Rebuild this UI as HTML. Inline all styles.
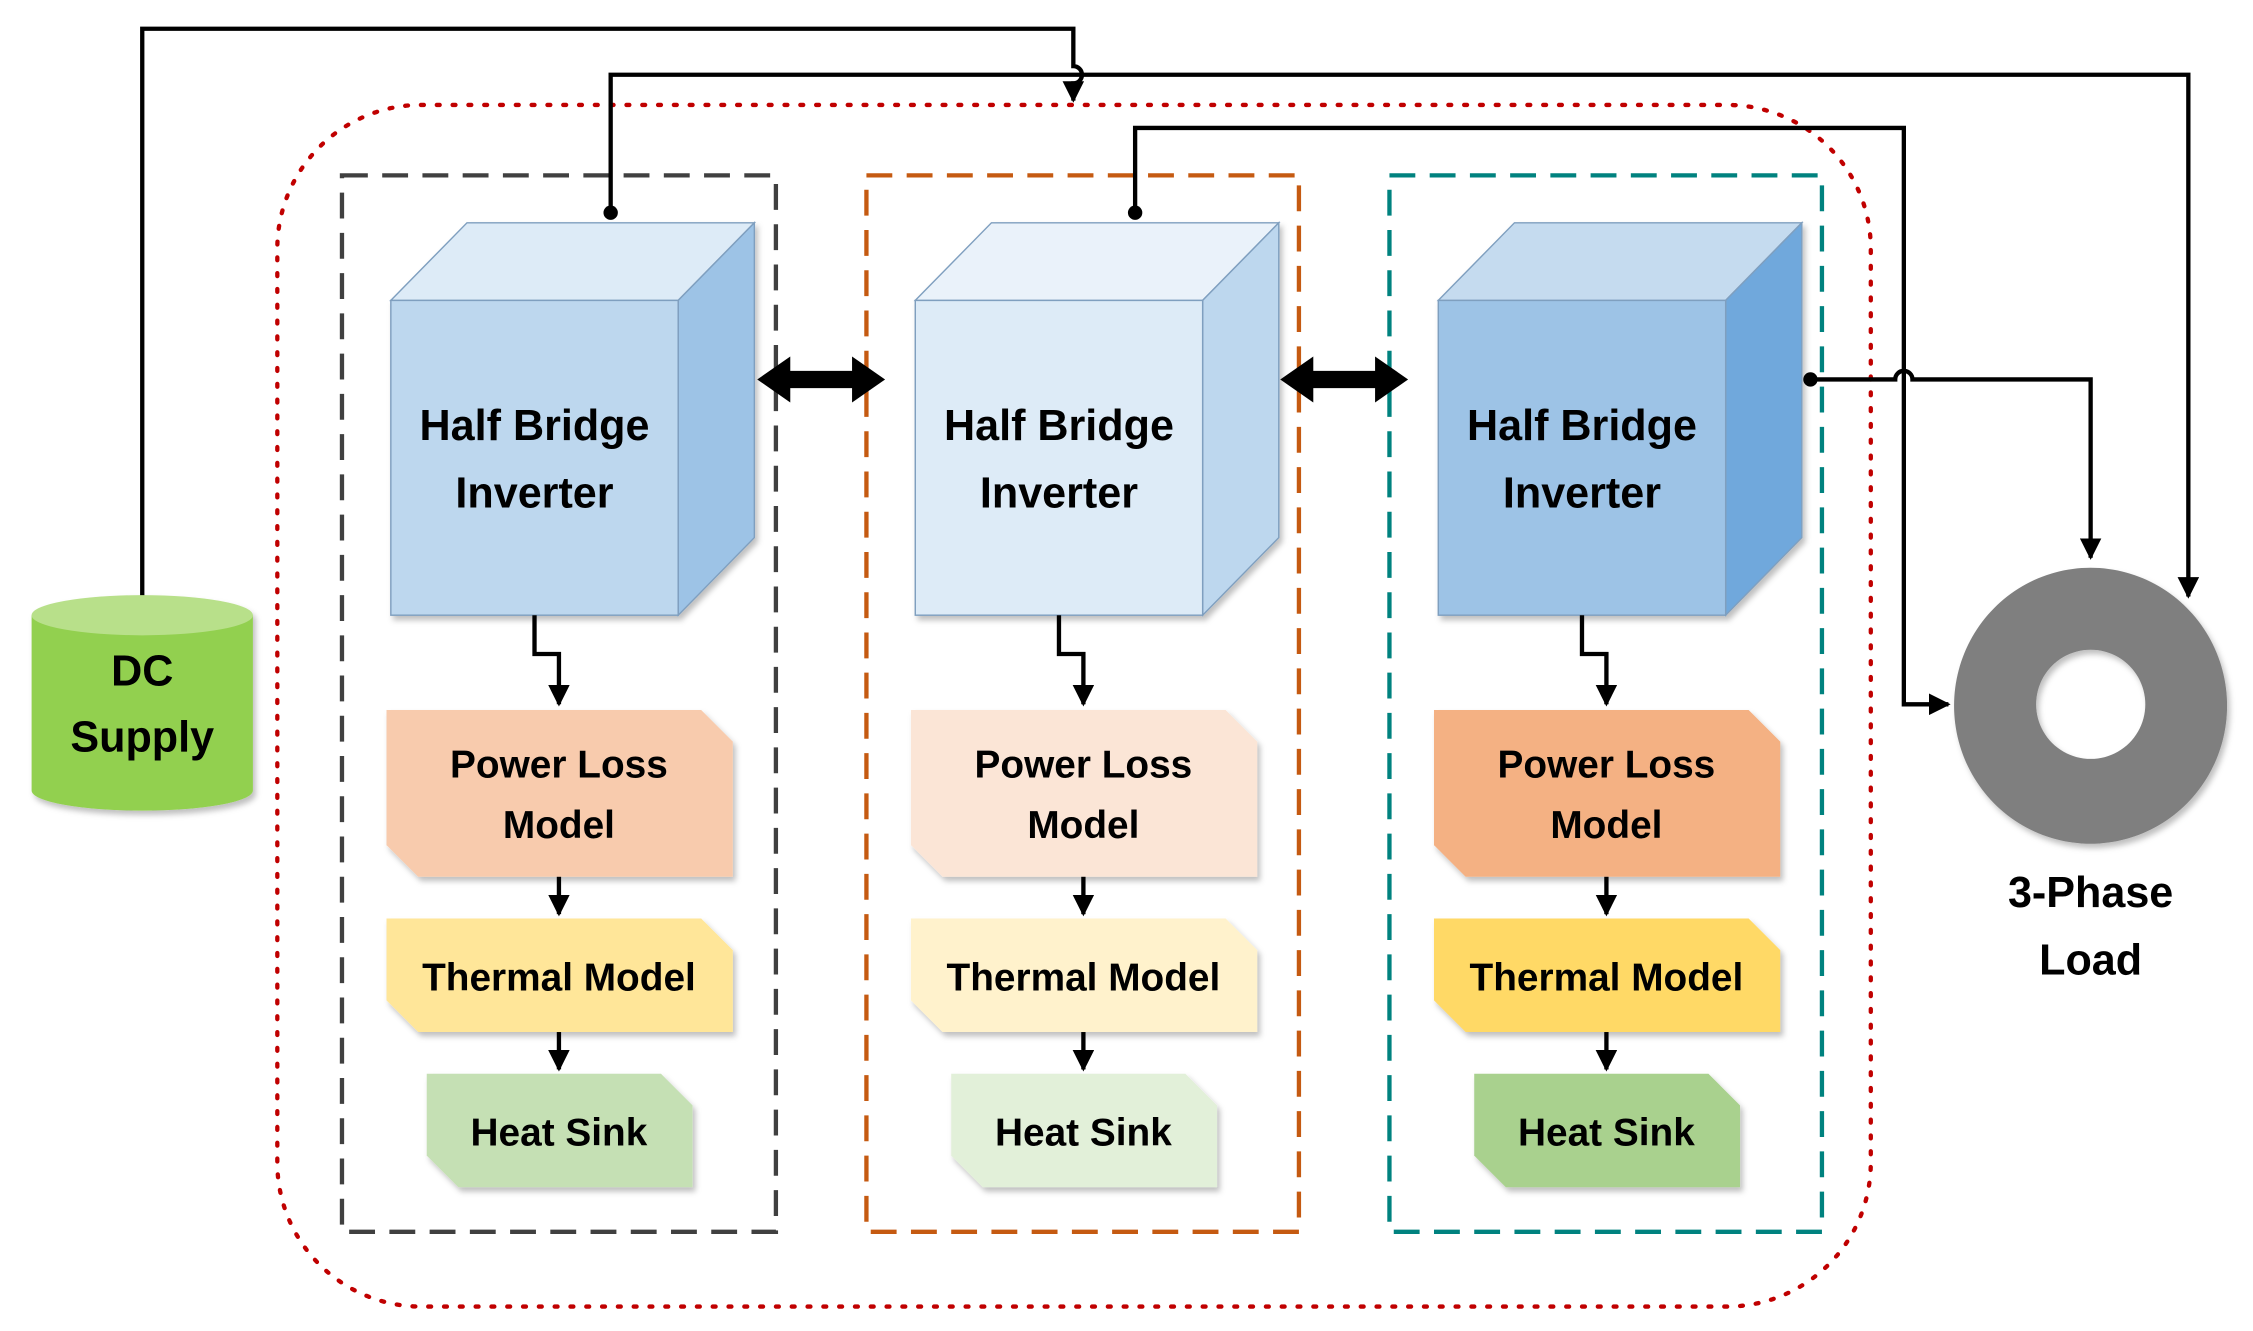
<!DOCTYPE html>
<html><head><meta charset="utf-8"><style>html,body{margin:0;padding:0;background:#fff}svg{display:block}text{font-family:"Liberation Sans",sans-serif;font-weight:bold;fill:#000;text-anchor:middle}</style></head><body>
<svg width="2253" height="1331" viewBox="0 0 1568 926" preserveAspectRatio="none" xmlns="http://www.w3.org/2000/svg">
<defs>
<marker id="a" viewBox="0 0 10 10" refX="9" refY="5" markerWidth="5" markerHeight="5" orient="auto"><path d="M0,0L10,5L0,10z" fill="#000"/></marker>
<filter id="s" x="-10%" y="-10%" width="130%" height="130%"><feDropShadow dx="2" dy="3" stdDeviation="2" flood-opacity="0.25"/></filter>
</defs>
<rect x="193" y="73" width="1109" height="836" rx="100" fill="none" stroke="#c00000" stroke-width="3" stroke-dasharray="2,9" stroke-linecap="round"/>
<rect x="238" y="122" width="302" height="735" fill="none" stroke="#404040" stroke-width="3" stroke-dasharray="18,10"/>
<rect x="603" y="122" width="301" height="735" fill="none" stroke="#c55a11" stroke-width="3" stroke-dasharray="18,10"/>
<rect x="967" y="122" width="301" height="735" fill="none" stroke="#00827f" stroke-width="3" stroke-dasharray="18,10"/>

<g filter="url(#s)">
<polygon points="272,209 325,155 525,155 472,209" fill="#ddebf7" stroke="#7f9fbf" stroke-width="1"/>
<polygon points="472,209 525,155 525,374 472,428" fill="#9dc3e6" stroke="#7f9fbf" stroke-width="1"/>
<rect x="272" y="209" width="200" height="219" fill="#bdd7ee" stroke="#7f9fbf" stroke-width="1"/>
<polygon points="269,494 488,494 510,516 510,610 291,610 269,588" fill="#f8cbad"/>
<polygon points="269,639 488,639 510,661 510,718 291,718 269,696" fill="#ffe699"/>
<polygon points="297,747 460,747 482,769 482,826 319,826 297,804" fill="#c5e0b4"/>
</g>
<g filter="url(#s)">
<polygon points="637,209 690,155 890,155 837,209" fill="#eaf2fa" stroke="#7f9fbf" stroke-width="1"/>
<polygon points="837,209 890,155 890,374 837,428" fill="#bdd7ee" stroke="#7f9fbf" stroke-width="1"/>
<rect x="637" y="209" width="200" height="219" fill="#ddebf7" stroke="#7f9fbf" stroke-width="1"/>
<polygon points="634,494 853,494 875,516 875,610 656,610 634,588" fill="#fbe5d6"/>
<polygon points="634,639 853,639 875,661 875,718 656,718 634,696" fill="#fff2cc"/>
<polygon points="662,747 825,747 847,769 847,826 684,826 662,804" fill="#e2f0d9"/>
</g>
<g filter="url(#s)">
<polygon points="1001,209 1054,155 1254,155 1201,209" fill="#c5dbef" stroke="#7f9fbf" stroke-width="1"/>
<polygon points="1201,209 1254,155 1254,374 1201,428" fill="#6fa8dc" stroke="#7f9fbf" stroke-width="1"/>
<rect x="1001" y="209" width="200" height="219" fill="#9dc3e6" stroke="#7f9fbf" stroke-width="1"/>
<polygon points="998,494 1217,494 1239,516 1239,610 1020,610 998,588" fill="#f4b183"/>
<polygon points="998,639 1217,639 1239,661 1239,718 1020,718 998,696" fill="#ffd966"/>
<polygon points="1026,747 1189,747 1211,769 1211,826 1048,826 1026,804" fill="#a9d18e"/>
</g>

<g font-size="30">
<text x="372" y="306">Half Bridge</text><text x="372" y="353">Inverter</text>
<text x="737" y="306">Half Bridge</text><text x="737" y="353">Inverter</text>
<text x="1101" y="306">Half Bridge</text><text x="1101" y="353">Inverter</text>
</g>
<g font-size="27">
<text x="389" y="541">Power Loss</text><text x="389" y="583">Model</text>
<text x="389" y="689">Thermal Model</text><text x="389" y="797">Heat Sink</text>
<text x="754" y="541">Power Loss</text><text x="754" y="583">Model</text>
<text x="754" y="689">Thermal Model</text><text x="754" y="797">Heat Sink</text>
<text x="1118" y="541">Power Loss</text><text x="1118" y="583">Model</text>
<text x="1118" y="689">Thermal Model</text><text x="1118" y="797">Heat Sink</text>
</g>

<g fill="none" stroke="#000" stroke-width="3">
<path d="M372,428V455H389V490" marker-end="url(#a)"/>
<path d="M389,610V636" marker-end="url(#a)"/>
<path d="M389,718V744" marker-end="url(#a)"/>
<path d="M737,428V455H754V490" marker-end="url(#a)"/>
<path d="M754,610V636" marker-end="url(#a)"/>
<path d="M754,718V744" marker-end="url(#a)"/>
<path d="M1101,428V455H1118V490" marker-end="url(#a)"/>
<path d="M1118,610V636" marker-end="url(#a)"/>
<path d="M1118,718V744" marker-end="url(#a)"/>
<path d="M99,415V20H747V46A6,6 0 0 1 747,58V70" marker-end="url(#a)"/>
<path d="M425,148V52H1523V415" marker-end="url(#a)"/>
<path d="M790,148V89H1325V490H1356" marker-end="url(#a)"/>
<path d="M1260,264H1319A6,6 0 0 1 1331,264H1455V388" marker-end="url(#a)"/>
</g>
<circle cx="425" cy="148" r="5"/><circle cx="790" cy="148" r="5"/><circle cx="1260" cy="264" r="5"/>
<polygon points="527,264 550,248 550,258 593,258 593,248 616,264 593,280 593,270 550,270 550,280"/>
<polygon points="891,264 914,248 914,258 957,258 957,248 980,264 957,280 957,270 914,270 914,280"/>

<g filter="url(#s)">
<path d="M22,428V550A77,14 0 0 0 176,550V428Z" fill="#92d050"/>
<ellipse cx="99" cy="428" rx="77" ry="14" fill="#b8e08a"/>
<path fill-rule="evenodd" d="M1455,395A95,96 0 1 1 1454.9,395ZM1455,452A38,38 0 1 0 1455.1,452Z" fill="#7f7f7f"/>
</g>
<g font-size="30"><text x="99" y="477">DC</text><text x="99" y="523">Supply</text>
<text x="1455" y="631">3-Phase</text><text x="1455" y="678">Load</text></g>
</svg>
</body></html>
